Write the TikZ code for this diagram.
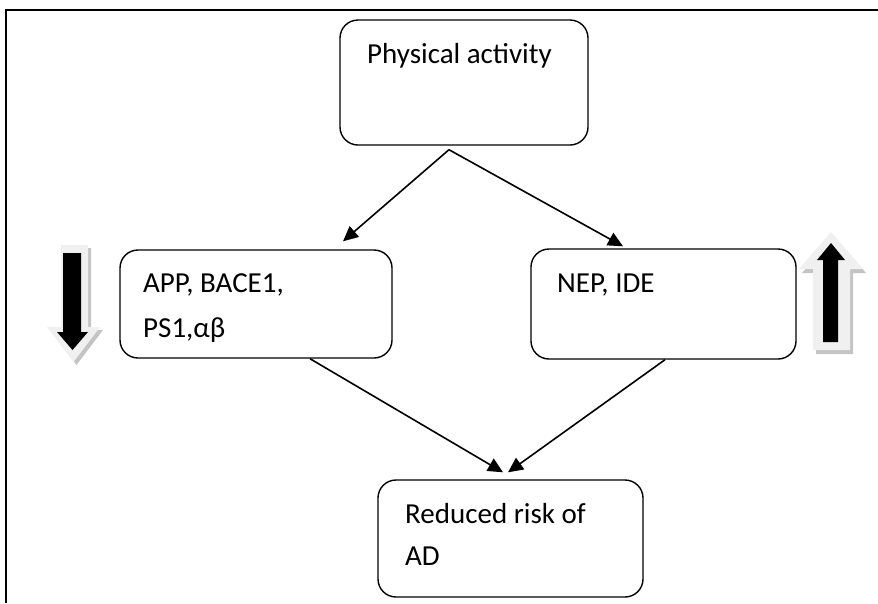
\documentclass[tikz,border=0pt]{standalone}
\usepackage{fontspec}
\setmainfont{Carlito}
\usetikzlibrary{arrows.meta,calc}
\definecolor{lightface}{HTML}{F0F0F0}
\definecolor{shadowgray}{HTML}{C4C4C4}
\begin{document}
\begin{tikzpicture}[x=1pt,y=-1pt,
  box/.style={draw,line width=1.4pt,rounded corners=18pt,inner sep=0pt},
  lbl/.style={anchor=base west,inner sep=0pt,font=\fontsize{29}{34}\selectfont},
  conn/.style={line width=1.6pt,-{Triangle[length=15pt,width=14pt]}},
  blockface/.style={fill=lightface,draw=none},
  blockshadow/.style={fill=shadowgray,draw=none},
  blockinner/.style={fill=black,draw=none}
]
\useasboundingbox (0,0) rectangle (878,603);
\draw[line width=2.2pt] (878,10) -- (6,10) -- (6,603);

% boxes
\node[box,minimum width=248pt,minimum height=125pt] (pa) at (464,82.5) {};
\node[box,minimum width=272pt,minimum height=108pt] (app) at (256,304) {};
\node[box,minimum width=265pt,minimum height=110pt] (nep) at (663.5,304) {};
\node[box,minimum width=265pt,minimum height=117pt] (red) at (510.5,538.5) {};

% texts
\node[lbl] (t1) at (367,63) {Physical activity};
\node[lbl] (t2a) at (143,292) {APP, BACE1,};
\node[lbl] (t2b) at (143,337) {PS1,αβ};
\node[lbl] (t3) at (557,292) {NEP, IDE};
\node[lbl] (t4a) at (405,523) {Reduced risk of};
\node[lbl] (t4b) at (405,565) {AD};

% connectors
\coordinate (split) at ($(pa.south)+(-15,4)$);
\draw[conn] (split) -- ($(app.north)+(87,-8)$);
\draw[conn] (split) -- ($(nep.north)+(-40.5,-2)$);
\draw[conn] ($(app.south)+(54,0)$) -- ($(red.north)+(-7.5,-7)$);
\draw[conn] ($(nep.south)+(1.5,0)$) -- ($(red.north)+(-2.5,-7)$);

% left block arrow (down)
\fill[blockshadow] (64,248) -- (91,248) -- (91,330) -- (103,330) -- (76.5,365) -- (50,330) -- (64,330) -- cycle;
\fill[blockface] (61,245) -- (88,245) -- (88,327) -- (100,327) -- (73.5,362) -- (47,327) -- (61,327) -- cycle;
\fill[blockinner] (63,253) -- (81,253) -- (81,332) -- (88,332) -- (72.5,350) -- (57,332) -- (63,332) -- cycle;

% right block arrow (up)
\fill[blockshadow] (834,236) -- (866,273) -- (853,273) -- (853,354) -- (816,354) -- (816,273) -- (802,273) -- cycle;
\fill[blockface] (831,232) -- (863,269) -- (850,269) -- (850,350) -- (813,350) -- (813,269) -- (799,269) -- cycle;
\fill[blockinner] (831,243) -- (845,260) -- (838,260) -- (838,342) -- (823,342) -- (823,260) -- (817,260) -- cycle;
\end{tikzpicture}
\end{document}
